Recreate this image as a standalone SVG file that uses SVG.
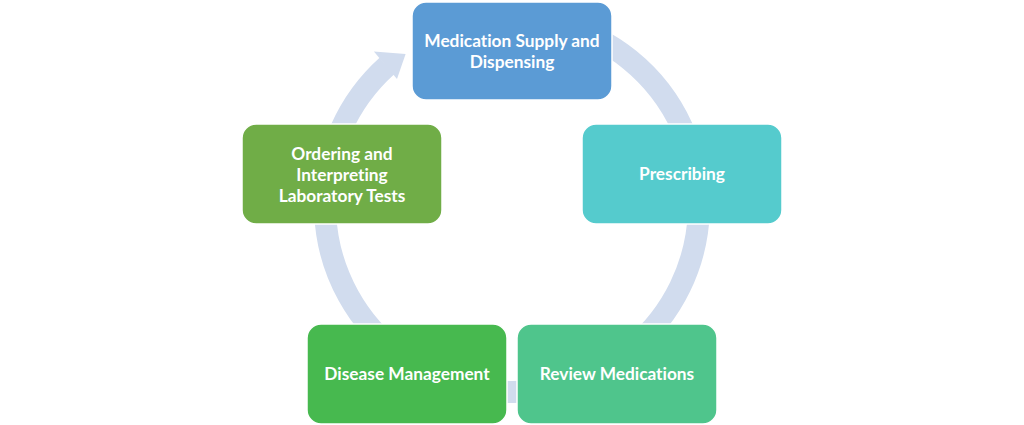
<svg xmlns="http://www.w3.org/2000/svg" width="1024" height="425" viewBox="0 0 1024 425">
<style>
.box{stroke:#ffffff;stroke-width:1.5}
.lbl{font-family:Lato,"Open Sans","Liberation Sans",sans-serif;font-weight:bold;font-size:17.3px;fill:#ffffff;text-anchor:middle;font-variant-ligatures:none}
.ring{fill:none;stroke:#D1DCEE;stroke-width:22}
</style>
<rect width="1024" height="425" fill="#ffffff"/>
<g id="connectors">
<path class="ring" d="M 560.4 24.4 A 187 187 0 1 1 386.9 66.0"/>
<polygon points="373.9,51.5 405.6,54.0 397.0,79.0" fill="#D1DCEE"/>
</g>
<g id="node-supply">
<rect class="box" x="412" y="2" width="200" height="98" rx="14" fill="#5B9BD5"/>
<text class="lbl" x="512" y="47">Medication Supply and</text>
<text class="lbl" x="512" y="68">Dispensing</text>
</g>
<g id="node-prescribing">
<rect class="box" x="582" y="124" width="200" height="100" rx="14" fill="#55CBCD"/>
<text class="lbl" x="682" y="180">Prescribing</text>
</g>
<g id="node-review">
<rect class="box" x="517" y="324" width="200" height="100" rx="14" fill="#4FC58C"/>
<text class="lbl" x="617" y="380">Review Medications</text>
</g>
<g id="node-disease">
<rect class="box" x="307" y="324" width="200" height="100" rx="14" fill="#47B94F"/>
<text class="lbl" x="407" y="380">Disease Management</text>
</g>
<g id="node-ordering">
<rect class="box" x="242" y="124" width="200" height="100" rx="14" fill="#70AD47"/>
<text class="lbl" x="342" y="160">Ordering and</text>
<text class="lbl" x="342" y="181">Interpreting</text>
<text class="lbl" x="342" y="202">Laboratory Tests</text>
</g>
</svg>
